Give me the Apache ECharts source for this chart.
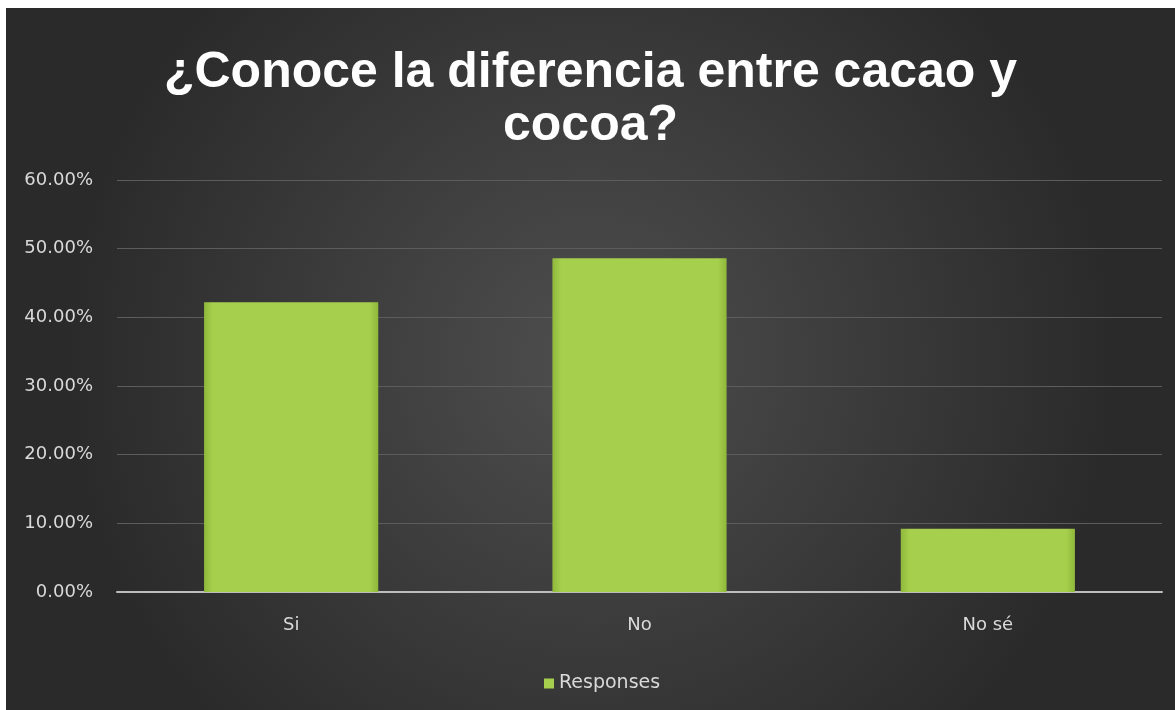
<!DOCTYPE html>
<html>
<head>
<meta charset="utf-8">
<script src="https://cdn.jsdelivr.net/npm/echarts@6/dist/echarts.min.js"></script>
<style>
  html, body { margin: 0; padding: 0; background: #ffffff; width: 1175px; height: 710px; overflow: hidden; }
  #chart { position: absolute; left: 6px; top: 8px; width: 1169px; height: 702px; }
</style>
</head>
<body>
<div id="chart"></div>
<script>
// Survey answers and their share of responses (%)
const categories = ['Si', 'No', 'No sé'];
const responses = [42.2, 48.6, 9.2];
const seriesName = 'Responses';
const chartTitle = '¿Conoce la diferencia entre cacao y\ncocoa?';
const yMin = 0, yMax = 60, yStep = 10;

const chart = echarts.init(document.getElementById('chart'), null, { renderer: 'canvas' });

const labelColor = '#d9d9d9';
const labelFont = 'DejaVu Sans, sans-serif';
const barFill = {
  type: 'linear', x: 0, y: 0, x2: 1, y2: 0,
  colorStops: [
    { offset: 0, color: '#8fb83c' },
    { offset: 0.05, color: '#a6cf4d' },
    { offset: 0.95, color: '#a6cf4d' },
    { offset: 1, color: '#8fb83c' }
  ]
};

chart.setOption({
  backgroundColor: {
    type: 'radial', x: 0.5, y: 0.5, r: 0.75,
    colorStops: [
      { offset: 0, color: '#4e4e4e' },
      { offset: 1, color: '#2a2a2a' }
    ]
  },
  title: {
    text: chartTitle,
    left: 'center',
    top: 34,
    textStyle: {
      color: '#ffffff',
      fontFamily: 'Liberation Sans, Arial, sans-serif',
      fontWeight: 'bold',
      fontSize: 50,
      lineHeight: 53
    }
  },
  legend: {
    data: [seriesName],
    bottom: 12,
    left: 533,
    itemWidth: 10,
    itemHeight: 10,
    itemGap: 8,
    icon: 'rect',
    textStyle: { color: labelColor, fontSize: 19, fontFamily: labelFont }
  },
  grid: { left: 111, right: 13, top: 172, bottom: 118, containLabel: false },
  xAxis: {
    type: 'category',
    data: categories,
    axisLine: { show: true, lineStyle: { color: '#bdbdbd', width: 2 } },
    axisTick: { show: false },
    axisLabel: { color: labelColor, fontSize: 18, margin: 24, fontFamily: labelFont },
    splitLine: { show: false }
  },
  yAxis: {
    type: 'value',
    min: yMin, max: yMax, interval: yStep,
    axisLine: { show: false },
    axisTick: { show: false },
    axisLabel: {
      color: labelColor, fontSize: 18, margin: 24,
      fontFamily: labelFont,
      formatter: v => v.toFixed(2) + '%'
    },
    splitLine: { lineStyle: { color: '#5c5c5c', width: 1 } }
  },
  series: [{
    name: seriesName,
    type: 'bar',
    data: responses,
    barWidth: '50%',
    itemStyle: {
      color: barFill,
      shadowColor: 'rgba(0,0,0,0.45)',
      shadowBlur: 4
    },
    emphasis: { disabled: true }
  }]
});
</script>
</body>
</html>
